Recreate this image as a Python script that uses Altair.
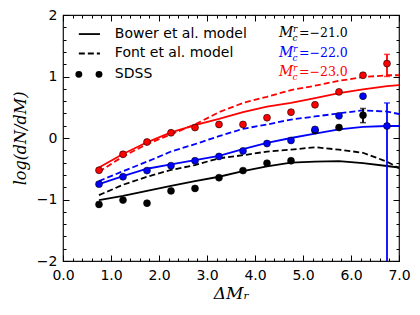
import altair as alt
import pandas as pd

# ---------------- data ----------------
sdss_x = [0.75, 1.25, 1.75, 2.25, 2.75, 3.25, 3.75, 4.25, 4.75, 5.25, 5.75, 6.25, 6.75]
sdss_black = [-1.08, -1.01, -1.06, -0.86, -0.82, -0.645, -0.53, -0.41, -0.37, 0.12, 0.17, 0.37]
sdss_blue = [-0.75, -0.63, -0.53, -0.45, -0.37, -0.30, -0.21, -0.09, -0.04, 0.14, 0.36, 0.68, 0.195]
sdss_red = [-0.525, -0.265, -0.065, 0.085, 0.17, 0.22, 0.22, 0.33, 0.42, 0.54, 0.75, 1.02, 1.21]

model_x = [0.75, 1.25, 1.75, 2.25, 2.75, 3.25, 3.75, 4.25, 4.75, 5.25, 5.75, 6.25, 6.75, 7.0]
bower_black = [-1.01, -0.94, -0.86, -0.78, -0.70, -0.63, -0.54, -0.46, -0.40, -0.385, -0.375, -0.41, -0.455, -0.48]
font_black = [-0.93, -0.76, -0.63, -0.52, -0.44, -0.33, -0.28, -0.22, -0.19, -0.15, -0.19, -0.24, -0.385, -0.49]
bower_blue = [-0.75, -0.62, -0.50, -0.43, -0.36, -0.29, -0.18, -0.08, 0.0, 0.07, 0.14, 0.18, 0.195, 0.195]
font_blue = [-0.70, -0.54, -0.385, -0.22, -0.10, 0.03, 0.15, 0.22, 0.30, 0.35, 0.40, 0.45, 0.43, 0.39]
bower_red = [-0.48, -0.26, -0.07, 0.09, 0.21, 0.31, 0.42, 0.51, 0.57, 0.65, 0.73, 0.79, 0.845, 0.86]
font_red = [-0.55, -0.30, -0.10, 0.06, 0.22, 0.42, 0.57, 0.67, 0.78, 0.85, 0.93, 0.99, 1.02, 1.02]

err_x = [6.25, 6.75, 6.75]
err_lo = [0.25, -2.5, 1.0]
err_hi = [0.48, 0.57, 1.36]
err_color = ["#000000", "#0000ff", "#ff0000"]

series_colors = {"k": "#000000", "b": "#0000ff", "r": "#ff0000"}

legend_labels = ["Bower et al. model", "Font et al. model", "SDSS"]
legend_y = [1.69, 1.374, 1.035]
legend_line_x = [0.33, 0.77]
legend_dot_x = [0.33, 0.75]
legend_text_x = 1.08

annot_values = ["=\u221221.0", "=\u221222.0", "=\u221223.0"]
annot_colors = ["#000000", "#0000ff", "#ff0000"]
annot_y = [1.70, 1.382, 1.073]
annot_x = 4.5

x_major = [0, 1, 2, 3, 4, 5, 6, 7]
y_major = [-2, -1, 0, 1, 2]
x_minor = [round(i * 0.2, 1) for i in range(36)]
y_minor = [round(-2 + i * 0.2, 1) for i in range(21)]

# ---------------- tables ----------------
rows = []
for c, vals in [("k", sdss_black), ("b", sdss_blue), ("r", sdss_red)]:
    for x, y in zip(sdss_x, vals):
        rows.append({"x": x, "y": y, "s": c, "c": series_colors[c]})
sdss_df = pd.DataFrame(rows)

rows = []
for m, c, vals in [("Bower", "k", bower_black), ("Font", "k", font_black),
                   ("Bower", "b", bower_blue), ("Font", "b", font_blue),
                   ("Bower", "r", bower_red), ("Font", "r", font_red)]:
    for x, y in zip(model_x, vals):
        rows.append({"x": x, "y": y, "s": c, "m": m, "c": series_colors[c]})
model_df = pd.DataFrame(rows)

err_df = pd.DataFrame({"x": err_x, "lo": err_lo, "hi": err_hi, "c": err_color})
cap_df = pd.DataFrame({"x": err_x + err_x, "y": err_lo + err_hi, "c": err_color + err_color})

xs = alt.Scale(domain=[0, 7], nice=False, zero=False)
ys = alt.Scale(domain=[-2, 2], nice=False, zero=False)


def X(field="x", axis=None):
    return alt.X(f"{field}:Q", scale=xs, axis=axis)


def Y(field="y", axis=None):
    return alt.Y(f"{field}:Q", scale=ys, axis=axis)


COL = alt.Color("c:N", scale=None)

solid = alt.Chart(model_df).transform_filter(alt.datum.m == "Bower").mark_line(
    strokeWidth=1.8, clip=True).encode(X(), Y(), color=COL, detail="s:N")
dashed = alt.Chart(model_df).transform_filter(alt.datum.m == "Font").mark_line(
    strokeWidth=1.8, strokeDash=[6, 3], clip=True).encode(X(), Y(), color=COL, detail="s:N")

errbars = alt.Chart(err_df).mark_rule(strokeWidth=1.8, clip=True).encode(
    X(), Y("lo"), y2="hi:Q", color=COL)
caps = alt.Chart(cap_df).mark_tick(orient="horizontal", size=6, thickness=1.5, clip=True).encode(
    X(), Y(), color=COL)

points = alt.Chart(sdss_df).mark_circle(size=48, opacity=1, stroke="black", strokeWidth=0.6,
                                        clip=True).encode(X(), Y(), color=COL)

# ---------------- legend (drawn in data space) ----------------
leg_line_df = pd.DataFrame({"x": legend_line_x, "y": [legend_y[0]] * 2})
leg_dash_df = pd.DataFrame({"x": legend_line_x, "y": [legend_y[1]] * 2})
leg_dot_df = pd.DataFrame({"x": legend_dot_x, "y": [legend_y[2]] * 2})
leg_text_df = pd.DataFrame({"x": [legend_text_x] * 3, "y": legend_y, "t": legend_labels})

leg_line = alt.Chart(leg_line_df).mark_line(strokeWidth=1.8, color="black").encode(X(), Y())
leg_dash = alt.Chart(leg_dash_df).mark_line(strokeWidth=1.8, strokeDash=[6, 3], color="black").encode(X(), Y())
leg_dot = alt.Chart(leg_dot_df).mark_circle(size=48, opacity=1, color="black").encode(X(), Y())
leg_text = alt.Chart(leg_text_df).mark_text(align="left", baseline="middle", font="DejaVu Sans",
                                           fontSize=14, color="black").encode(X(), Y(), text="t:N")

# ---------------- annotation M_c^r = ... ----------------
ann_df = pd.DataFrame({"x": [annot_x] * 3, "y": annot_y, "t": annot_values, "c": annot_colors})
ann_M = alt.Chart(ann_df).transform_calculate(m="'M'").mark_text(
    align="left", baseline="middle", font="DejaVu Serif", fontStyle="italic", fontSize=14,
    dy=0).encode(X(), Y(), text="m:N", color=COL)
ann_r = alt.Chart(ann_df).transform_calculate(m="'r'").mark_text(
    align="left", baseline="middle", font="DejaVu Serif", fontStyle="italic", fontSize=9,
    dx=14, dy=-4).encode(X(), Y(), text="m:N", color=COL)
ann_c = alt.Chart(ann_df).transform_calculate(m="'c'").mark_text(
    align="left", baseline="middle", font="DejaVu Serif", fontStyle="italic", fontSize=9,
    dx=13.5, dy=5).encode(X(), Y(), text="m:N", color=COL)
ann_v = alt.Chart(ann_df).mark_text(
    align="left", baseline="middle", font="DejaVu Serif", fontSize=12.5,
    dx=20, dy=0).encode(X(), Y(), text="t:N", color=COL)

# ---------------- axes ----------------
dummy = pd.DataFrame({"x": [0.0], "y": [0.0]})


def axis_layer(xaxis=None, yaxis=None):
    return alt.Chart(dummy).mark_point(opacity=0).encode(X(axis=xaxis), Y(axis=yaxis))


main_x = alt.Axis(orient="bottom", values=x_major, format=".1f", ticks=False, domain=False,
                  grid=False, labelFlush=False, labelFont="DejaVu Sans", labelFontSize=14,
                  labelColor="black", labelPadding=7, title="\u0394M\u1d63",
                  titleFont="DejaVu Serif", titleFontStyle="italic", titleFontWeight="normal",
                  titleFontSize=17, titleColor="black", titlePadding=3)
main_y = alt.Axis(orient="left", values=y_major, format="d", ticks=False, domain=False,
                  grid=False, labelFlush=False, labelFont="DejaVu Sans", labelFontSize=14,
                  labelColor="black", labelPadding=6,
                  labelExpr="replace(datum.label, '-', '\u2212')",
                  title="log(dN/dM)", titleFont="DejaVu Serif", titleFontStyle="italic",
                  titleFontWeight="normal", titleFontSize=16, titleColor="black", titlePadding=8)


def tick_axis(orient, offset, values, size):
    return alt.Axis(orient=orient, offset=offset, values=values, tickSize=size, tickWidth=1,
                    tickColor="black", labels=False, domain=False, grid=False, title=None)


W, H = 336, 246
axes_layers = [
    axis_layer(xaxis=main_x, yaxis=main_y),
    axis_layer(xaxis=tick_axis("top", -H, x_major, 6), yaxis=tick_axis("right", -W, y_major, 6)),
    axis_layer(xaxis=tick_axis("top", -H, x_minor, 3), yaxis=tick_axis("right", -W, y_minor, 3)),
    axis_layer(xaxis=tick_axis("bottom", -H, x_major, 6), yaxis=tick_axis("left", -W, y_major, 6)),
    axis_layer(xaxis=tick_axis("bottom", -H, x_minor, 3), yaxis=tick_axis("left", -W, y_minor, 3)),
]

chart = alt.layer(
    *axes_layers,
    solid, dashed, errbars, caps, points,
    leg_line, leg_dash, leg_dot, leg_text,
    ann_M, ann_r, ann_c, ann_v,
).resolve_axis(x="independent", y="independent").properties(
    width=W, height=H,
    autosize=alt.AutoSizeParams(type="none"),
    padding={"left": 55, "top": 7, "right": 13, "bottom": 46},
).configure_view(stroke="#111111", strokeWidth=1.2)

chart.save("out.html", embed_options={"renderer": "svg", "actions": False})
